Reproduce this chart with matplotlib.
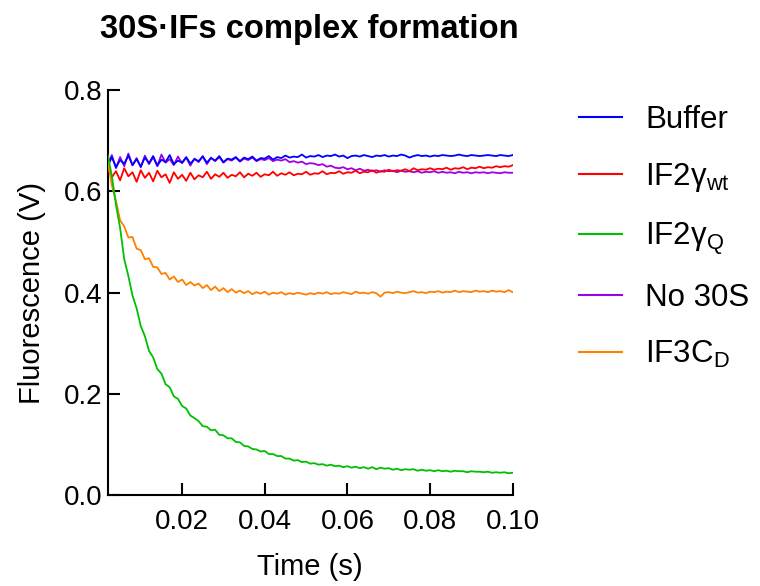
import numpy as np
import matplotlib
matplotlib.use("Agg")
import matplotlib.pyplot as plt

plt.rcParams['font.family'] = ['Liberation Sans', 'DejaVu Sans']

# ---- data ----
time_ms = np.arange(2, 101)  # sampling grid, ms
time_s = time_ms / 1000.0

labels = ['Buffer', 'IF2γ$_\\mathregular{wt}$', 'IF2γ$_\\mathregular{Q}$',
          'No 30S', 'IF3C$_\\mathregular{D}$']
colors = ['#0000FF', '#FF0000', '#00C000', '#A000E8', '#FF8000']

buffer_v = [0.650, 0.668, 0.648, 0.662, 0.655, 0.671, 0.652, 0.664, 0.649, 0.667,
            0.656, 0.670, 0.651, 0.663, 0.658, 0.672, 0.654, 0.661, 0.657, 0.668,
            0.655, 0.664, 0.660, 0.669, 0.657, 0.666, 0.661, 0.670, 0.658, 0.665,
            0.663, 0.668, 0.660, 0.667, 0.664, 0.669, 0.661, 0.666, 0.665, 0.670,
            0.663, 0.668, 0.666, 0.671, 0.667, 0.669, 0.668, 0.673, 0.667, 0.670,
            0.669, 0.672, 0.668, 0.671, 0.670, 0.673, 0.669, 0.671, 0.666, 0.670,
            0.671, 0.669, 0.672, 0.670, 0.668, 0.671, 0.670, 0.672, 0.669, 0.671,
            0.670, 0.673, 0.671, 0.667, 0.670, 0.672, 0.670, 0.671, 0.669, 0.671,
            0.670, 0.672, 0.671, 0.670, 0.671, 0.673, 0.671, 0.670, 0.672, 0.671,
            0.670, 0.671, 0.672, 0.671, 0.670, 0.672, 0.671, 0.670, 0.672]

if2_wt = [0.645, 0.628, 0.640, 0.622, 0.646, 0.630, 0.638, 0.619, 0.642, 0.627,
          0.637, 0.620, 0.641, 0.628, 0.634, 0.617, 0.638, 0.625, 0.633, 0.621,
          0.637, 0.624, 0.632, 0.628, 0.639, 0.625, 0.634, 0.629, 0.637, 0.627,
          0.633, 0.630, 0.638, 0.628, 0.635, 0.631, 0.637, 0.629, 0.634, 0.632,
          0.639, 0.631, 0.636, 0.633, 0.638, 0.632, 0.635, 0.634, 0.639, 0.633,
          0.636, 0.635, 0.640, 0.634, 0.637, 0.636, 0.640, 0.635, 0.638, 0.637,
          0.641, 0.636, 0.639, 0.638, 0.642, 0.637, 0.640, 0.639, 0.643, 0.640,
          0.642, 0.641, 0.644, 0.640, 0.646, 0.642, 0.644, 0.643, 0.646, 0.643,
          0.645, 0.644, 0.647, 0.643, 0.646, 0.645, 0.648, 0.644, 0.647, 0.646,
          0.649, 0.646, 0.648, 0.647, 0.650, 0.648, 0.650, 0.649, 0.652]

if2_q = [0.672, 0.631, 0.574, 0.528, 0.466, 0.433, 0.394, 0.369, 0.334, 0.314,
         0.285, 0.272, 0.249, 0.240, 0.219, 0.213, 0.195, 0.190, 0.176, 0.171,
         0.157, 0.152, 0.146, 0.136, 0.135, 0.128, 0.129, 0.119, 0.118, 0.112,
         0.112, 0.105, 0.104, 0.097, 0.096, 0.091, 0.090, 0.086, 0.087, 0.081,
         0.081, 0.077, 0.077, 0.072, 0.072, 0.068, 0.069, 0.065, 0.066, 0.062,
         0.063, 0.060, 0.061, 0.058, 0.060, 0.057, 0.058, 0.055, 0.057, 0.054,
         0.056, 0.053, 0.055, 0.052, 0.055, 0.051, 0.054, 0.052, 0.053, 0.050,
         0.052, 0.049, 0.051, 0.050, 0.051, 0.048, 0.050, 0.048, 0.049, 0.047,
         0.049, 0.047, 0.048, 0.046, 0.048, 0.047, 0.047, 0.045, 0.047, 0.046,
         0.046, 0.045, 0.046, 0.044, 0.045, 0.044, 0.045, 0.043, 0.044]

no_30s = [0.655, 0.672, 0.646, 0.668, 0.650, 0.675, 0.652, 0.666, 0.648, 0.671,
          0.654, 0.668, 0.650, 0.673, 0.657, 0.664, 0.652, 0.669, 0.656, 0.667,
          0.651, 0.665, 0.658, 0.670, 0.654, 0.667, 0.660, 0.668, 0.657, 0.664,
          0.661, 0.667, 0.659, 0.665, 0.662, 0.667, 0.660, 0.664, 0.662, 0.666,
          0.660, 0.663, 0.661, 0.664, 0.658, 0.660, 0.657, 0.659, 0.654, 0.656,
          0.655, 0.652, 0.654, 0.649, 0.651, 0.647, 0.646, 0.648, 0.644, 0.646,
          0.642, 0.645, 0.641, 0.643, 0.640, 0.642, 0.639, 0.642, 0.640, 0.641,
          0.638, 0.641, 0.639, 0.640, 0.638, 0.640, 0.637, 0.639, 0.638, 0.640,
          0.637, 0.639, 0.637, 0.638, 0.636, 0.639, 0.637, 0.638, 0.636, 0.638,
          0.637, 0.638, 0.636, 0.638, 0.637, 0.636, 0.638, 0.637, 0.637]

if3_cd = [0.662, 0.612, 0.581, 0.543, 0.531, 0.509, 0.510, 0.487, 0.484, 0.466,
          0.468, 0.451, 0.450, 0.437, 0.439, 0.426, 0.432, 0.421, 0.426, 0.415,
          0.421, 0.414, 0.418, 0.409, 0.415, 0.405, 0.412, 0.403, 0.409, 0.401,
          0.407, 0.400, 0.404, 0.399, 0.403, 0.397, 0.401, 0.398, 0.402, 0.396,
          0.400, 0.398, 0.401, 0.396, 0.399, 0.397, 0.400, 0.398, 0.396, 0.399,
          0.397, 0.400, 0.398, 0.401, 0.397, 0.399, 0.398, 0.401, 0.399, 0.397,
          0.402, 0.399, 0.400, 0.398, 0.401, 0.399, 0.392, 0.400, 0.401, 0.399,
          0.402, 0.400, 0.399, 0.401, 0.403, 0.400, 0.401, 0.399, 0.402, 0.401,
          0.403, 0.400, 0.402, 0.401, 0.404, 0.401, 0.403, 0.402, 0.401, 0.404,
          0.402, 0.403, 0.401, 0.404, 0.402, 0.403, 0.401, 0.405, 0.401]

series = [buffer_v, if2_wt, if2_q, no_30s, if3_cd]
zorders = [5, 3, 7, 2, 6]

x_ticks = [0.02, 0.04, 0.06, 0.08, 0.10]
x_ticklabels = ['0.02', '0.04', '0.06', '0.08', '0.10']
y_ticks = [0.0, 0.2, 0.4, 0.6, 0.8]
y_ticklabels = ['0.0', '0.2', '0.4', '0.6', '0.8']

# ---- figure ----
fig = plt.figure(figsize=(7.6, 5.86), dpi=100)
ax = fig.add_axes([107.7 / 760, 1 - 495 / 586, 405 / 760, 404.7 / 586])

for vals, lab, col, z in zip(series, labels, colors, zorders):
    ax.plot(time_s, vals, color=col, lw=1.3, label=lab, zorder=z)

ax.set_xlim(0.002, 0.1)
ax.set_ylim(0.0, 0.8)
ax.set_xticks(x_ticks)
ax.set_xticklabels(x_ticklabels)
ax.set_yticks(y_ticks)
ax.set_yticklabels(y_ticklabels)

for s in ['top', 'right']:
    ax.spines[s].set_visible(False)
for s in ['left', 'bottom']:
    ax.spines[s].set_linewidth(1.5)

ax.tick_params(axis='both', direction='in', length=8.5, width=1.5, labelsize=20)
ax.tick_params(axis='x', pad=10)
ax.tick_params(axis='y', pad=4)

ax.set_xlabel('Time (s)', fontsize=21, va='baseline')
ax.xaxis.set_label_coords(0.5, (495 - 575) / 404.7)
ax.set_ylabel('Fluorescence (V)', fontsize=21)
ax.yaxis.set_label_coords((45.7 - 107.7) / 405, 0.5)

fig.text(309 / 760, 1 - 38 / 586, '30S·IFs complex formation', ha='center',
         va='baseline', fontsize=23.6, fontweight='bold')

leg = fig.legend(loc='upper left', bbox_to_anchor=(579 / 760, 1 - 105 / 586),
                 bbox_transform=fig.transFigure, frameon=False, fontsize=22.5,
                 handlelength=1.376, handletextpad=0.74, labelspacing=0.83,
                 borderpad=0, borderaxespad=0)
for h in leg.get_lines():
    h.set_linewidth(1.5)

fig.savefig('out.png', dpi=100)
